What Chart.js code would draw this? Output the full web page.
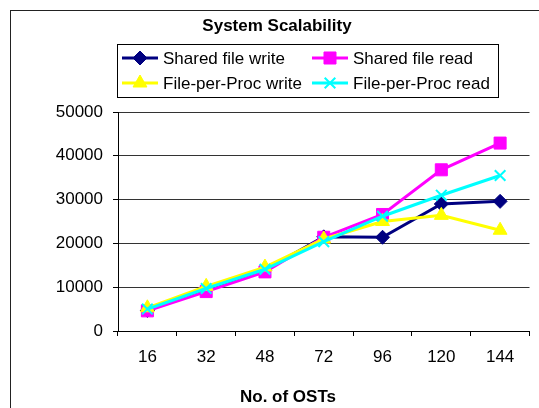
<!DOCTYPE html>
<html>
<head>
<meta charset="utf-8">
<script src="https://cdn.jsdelivr.net/npm/chart.js@4/dist/chart.umd.min.js"></script>
<style>
  html, body { margin: 0; padding: 0; background: #fff; }
  canvas { display: block; }
</style>
</head>
<body>
<canvas id="c" width="539" height="408"></canvas>
<script>
// Number of OSTs on the x axis
const osts = ['16', '32', '48', '72', '96', '120', '144'];

// Aggregate throughput for each access pattern
const sharedWrite = [4700, 9400, 13900, 21500, 21400, 29000, 29600];
const sharedRead  = [4600, 9000, 13500, 21400, 26600, 36800, 42900];
const fppWrite    = [5300, 10200, 14600, 21000, 25000, 26400, 23000];
const fppRead     = [5000, 9700, 14100, 20400, 26200, 31000, 35500];

const seriesNames = ['Shared file write', 'Shared file read', 'File-per-Proc write', 'File-per-Proc read'];
const chartTitle = 'System Scalability';
const xAxisTitle = 'No. of OSTs';

const FONT = 'Liberation Sans, Arial, sans-serif';

// later series are painted over earlier ones
function series(label, data, color, style, radius, order) {
  return {
    label, data, order,
    borderColor: color,
    backgroundColor: color,
    borderWidth: 3,
    pointStyle: style,
    pointRadius: radius,
    pointHoverRadius: radius,
    pointBorderColor: color,
    pointBackgroundColor: color,
    pointBorderWidth: style === 'crossRot' ? 2 : 1,
    tension: 0,
    fill: false
  };
}

// Outer frame, chart title and axis title of the chart object
const framePlugin = {
  id: 'frame',
  afterDraw(chart) {
    const ctx = chart.ctx;
    ctx.save();
    ctx.strokeStyle = '#222';
    ctx.lineWidth = 1;
    ctx.strokeRect(10.5, 10.5, 700, 600);
    ctx.fillStyle = '#000';
    ctx.textAlign = 'center';
    ctx.textBaseline = 'middle';
    ctx.font = 'bold 17px ' + FONT;
    ctx.fillText(chartTitle, 277, 26);
    ctx.fillText(xAxisTitle, 288, 397);
    ctx.restore();
  }
};

// Two-column boxed legend under the title
const boxLegend = {
  id: 'boxLegend',
  afterDraw(chart) {
    const ctx = chart.ctx;
    const cols = [122, 312];
    const rows = [58, 83];
    const box = { x: 117.5, y: 44.5, w: 381, h: 53 };
    ctx.save();
    ctx.fillStyle = '#fff';
    ctx.fillRect(box.x, box.y, box.w, box.h);
    ctx.strokeStyle = '#000';
    ctx.lineWidth = 1;
    ctx.strokeRect(box.x, box.y, box.w, box.h);
    chart.data.datasets.forEach((ds, i) => {
      const x = cols[i % 2];
      const y = rows[Math.floor(i / 2)];
      ctx.strokeStyle = ds.borderColor;
      ctx.lineWidth = 3;
      ctx.beginPath();
      ctx.moveTo(x, y);
      ctx.lineTo(x + 36, y);
      ctx.stroke();
      ctx.fillStyle = ds.pointBackgroundColor;
      ctx.strokeStyle = ds.pointBorderColor;
      ctx.lineWidth = ds.pointBorderWidth;
      Chart.helpers.drawPoint(ctx, {
        pointStyle: ds.pointStyle,
        radius: ds.pointRadius,
        rotation: 0,
        borderWidth: ds.pointBorderWidth
      }, x + 18, y);
      ctx.fillStyle = '#000';
      ctx.font = '17px ' + FONT;
      ctx.textBaseline = 'middle';
      ctx.textAlign = 'left';
      ctx.fillText(ds.label, x + 41, y + 1);
    });
    ctx.restore();
  }
};

new Chart(document.getElementById('c'), {
  type: 'line',
  data: {
    labels: osts,
    datasets: [
      series(seriesNames[0], sharedWrite, '#000080', 'rectRot', 7, 3),
      series(seriesNames[1], sharedRead, '#FF00FF', 'rect', 8.5, 2),
      series(seriesNames[2], fppWrite, '#FFFF00', 'triangle', 8, 1),
      series(seriesNames[3], fppRead, '#00FFFF', 'crossRot', 7.5, 0)
    ]
  },
  options: {
    responsive: false,
    devicePixelRatio: 1,
    animation: false,
    layout: { padding: { left: 0, right: 1, top: 112, bottom: 0 } },
    plugins: {
      legend: { display: false },
      tooltip: { enabled: false },
      title: { display: false }
    },
    scales: {
      x: {
        offset: true,
        afterFit(scale) { scale.height = 77; },
        grid: {
          offset: true,
          drawOnChartArea: false,
          drawTicks: true,
          tickLength: 5,
          color: '#000'
        },
        border: { display: true, color: '#000', width: 1 },
        ticks: {
          color: '#000',
          font: { family: FONT, size: 17 },
          padding: 11,
          maxRotation: 0
        }
      },
      y: {
        min: 0,
        max: 50000,
        afterFit(scale) { scale.width = 118; },
        grid: {
          color: '#333',
          lineWidth: 1,
          drawTicks: true,
          tickLength: 5,
          tickColor: '#000'
        },
        border: { display: true, color: '#000', width: 1 },
        ticks: {
          stepSize: 10000,
          color: '#000',
          font: { family: FONT, size: 17 },
          padding: 10,
          callback: v => String(v)
        }
      }
    }
  },
  plugins: [framePlugin, boxLegend]
});
</script>
</body>
</html>
